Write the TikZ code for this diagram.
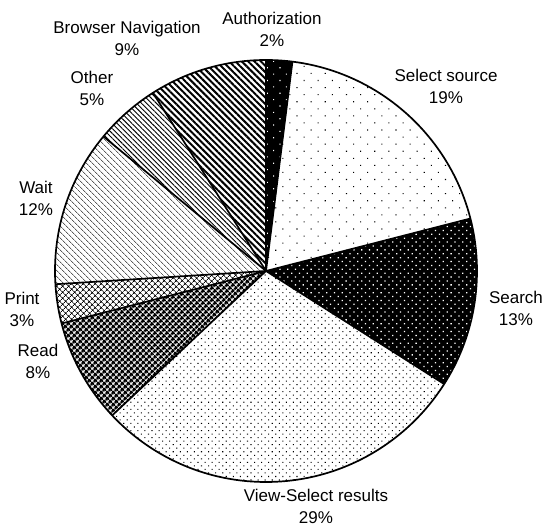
\documentclass[tikz,border=0pt]{standalone}
\usepackage{fontspec}
\setmainfont{Liberation Sans}
\usetikzlibrary{patterns.meta}
\begin{document}
\begin{tikzpicture}[x=1pt,y=1pt,
  lbl/.style={align=center,font=\fontsize{17}{22}\selectfont,inner sep=0pt},
  edge/.style={draw=black,line width=1.7pt,line join=round}]
\useasboundingbox (0,0) rectangle (547,526);
\coordinate (c) at (266,255);
\def\R{211}
% Authorization
\fill[black] (c) -- ++(90:\R) arc[start angle=90,end angle=82.8,radius=\R] -- cycle;
\fill[pattern={Dots[angle=45,distance=9pt,radius=0.8pt]},pattern color=white] (c) -- ++(90:\R) arc[start angle=90,end angle=82.8,radius=\R] -- cycle;
% Select source
\fill[pattern={Dots[angle=45,distance=10pt,radius=0.75pt]}] (c) -- ++(82.8:\R) arc[start angle=82.8,end angle=14.4,radius=\R] -- cycle;
% Search
\fill[black] (c) -- ++(14.4:\R) arc[start angle=14.4,end angle=-32.4,radius=\R] -- cycle;
\fill[pattern={Dots[angle=45,distance=5.5pt,radius=0.9pt]},pattern color=white] (c) -- ++(14.4:\R) arc[start angle=14.4,end angle=-32.4,radius=\R] -- cycle;
% View-Select results
\fill[pattern={Dots[angle=45,distance=5pt,radius=0.75pt]}] (c) -- ++(-32.4:\R) arc[start angle=-32.4,end angle=-136.8,radius=\R] -- cycle;
% Read
\fill[pattern={Hatch[angle=45,distance=4pt,line width=2pt]}] (c) -- ++(-136.8:\R) arc[start angle=-136.8,end angle=-165.6,radius=\R] -- cycle;
% Print
\fill[pattern={Hatch[angle=45,distance=4pt,line width=0.8pt]}] (c) -- ++(-165.6:\R) arc[start angle=-165.6,end angle=-176.4,radius=\R] -- cycle;
% Wait
\fill[pattern={Lines[angle=-45,distance=4pt,line width=0.6pt]}] (c) -- ++(-176.4:\R) arc[start angle=-176.4,end angle=-219.6,radius=\R] -- cycle;
% Other
\fill[pattern={Lines[angle=-45,distance=3.5pt,line width=0.9pt]}] (c) -- ++(-219.6:\R) arc[start angle=-219.6,end angle=-237.6,radius=\R] -- cycle;
% Browser Navigation
\fill[pattern={Lines[angle=-45,distance=4.5pt,line width=2pt]}] (c) -- ++(-237.6:\R) arc[start angle=-237.6,end angle=-270,radius=\R] -- cycle;
% outlines
\foreach \a in {90,82.8,14.4,-32.4,-136.8,-165.6,-176.4,-219.6,-237.6}
  \draw[edge] (c) -- ++(\a:\R);
\draw[edge] (c) circle[radius=\R];
% labels
\node[lbl] (auth) at (272,497) {Authorization\\2\%};
\node[lbl] (brow) at (127,488) {Browser Navigation\\9\%};
\node[lbl] (sel) at (446,440) {Select source\\19\%};
\node[lbl] (oth) at (92,438) {Other\\5\%};
\node[lbl] (wait) at (36,328) {Wait\\12\%};
\node[lbl] (prt) at (22,217) {Print\\3\%};
\node[lbl] (read) at (38,165) {Read\\8\%};
\node[lbl] (srch) at (516,218) {Search\\13\%};
\node[lbl] (view) at (316,20) {View-Select results\\29\%};
\end{tikzpicture}
\end{document}
